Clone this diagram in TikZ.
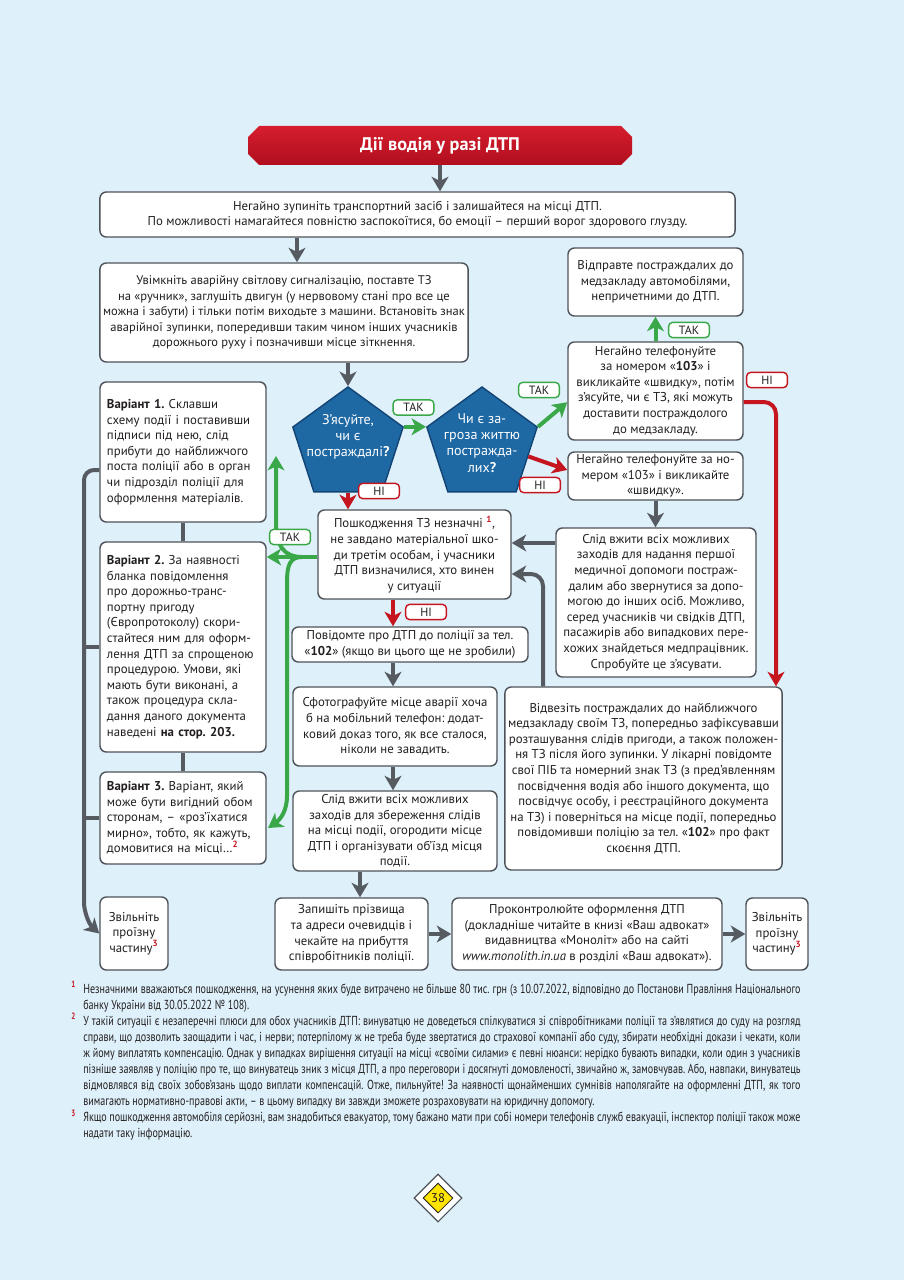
\documentclass[tikz,border=0pt]{standalone}
\usepackage{fontspec}
\setmainfont{PT Sans}
\newfontfamily\notefont[FakeStretch=0.77]{PT Sans}
\usetikzlibrary{arrows.meta, positioning, calc, shapes.geometric}
\frenchspacing

\definecolor{bgblue}{RGB}{222,240,250}
\definecolor{boxgray}{RGB}{78,83,89}
\definecolor{arrowgray}{RGB}{86,91,97}
\definecolor{yesgreen}{RGB}{58,168,73}
\definecolor{nored}{RGB}{197,22,32}
\definecolor{pentablue}{RGB}{30,104,164}
\definecolor{pentaedge}{RGB}{18,68,116}
\definecolor{bannertop}{RGB}{214,30,45}
\definecolor{bannerbottom}{RGB}{176,14,30}
\definecolor{textdark}{RGB}{35,31,32}
\definecolor{signyellow}{RGB}{255,228,0}

\newcommand{\refmark}[1]{\textsuperscript{\textcolor{nored}{\textbf{#1}}}}
\newcommand{\notemark}[1]{\leavevmode\llap{\textcolor{nored}{\textbf{\textsuperscript{#1}}}\hspace{0.18cm}}}

\begin{document}
\begin{tikzpicture}[
		x=0.025cm, y=-0.025cm,
		every node/.style={font=\fontsize{9.1}{11.1}\selectfont, text=textdark, align=center},
		box/.style={draw=boxgray, fill=white, line width=1pt, rounded corners=0.16cm, inner xsep=0.08cm, inner ysep=0.02cm},
		varbox/.style={box, align=left, text width=3.8cm, inner xsep=0.175cm, minimum width=4.15cm},
		bannertext/.style={minimum width=9.6cm, minimum height=0.975cm, inner sep=0pt,
			text=white, font=\bfseries\fontsize{13}{15}\selectfont},
		pentagon/.style={regular polygon, regular polygon sides=5, minimum size=2.9cm, inner sep=0pt,
			fill=pentablue, draw=pentaedge, line width=1pt},
		pentatext/.style={text=white, font=\fontsize{10}{11.5}\selectfont, align=center},
		yeslabel/.style={draw=yesgreen, fill=white, line width=1pt, rounded corners=0.1cm, minimum width=1.02cm,
			minimum height=0.38cm, inner sep=0pt, font=\fontsize{8.5}{9}\selectfont},
		nolabel/.style={yeslabel, draw=nored},
		grayarrow/.style={draw=arrowgray, line width=0.1cm, -{Stealth[length=0.36cm, width=0.42cm, inset=0.1cm]}},
		grayline/.style={draw=arrowgray, line width=0.1cm},
		yesarrow/.style={grayarrow, draw=yesgreen},
		noarrow/.style={grayarrow, draw=nored},
		notes/.style={font=\notefont\fontsize{9.3}{11.4}\selectfont, text width=17.925cm, align=justify, inner sep=0pt}
		]
		
		% page
		\path[use as bounding box, fill=bgblue] (0,0) rectangle (904,1280);
		
		% Title and first steps
		\shade[top color=bannertop, bottom color=bannerbottom] (259,126) -- (621,126) -- (632,137) -- (632,154)
			-- (621,165) -- (259,165) -- (248,154) -- (248,137) -- cycle;
		\node[bannertext] (title) at (440,145.5) {Дії водія у разі ДТП};
		\node[box, minimum width=15.875cm, minimum height=1.125cm] (stop) at (417.5,214.5)
			{Негайно зупиніть транспортний засіб і залишайтеся на місці ДТП.\\
			По можливості намагайтеся повністю заспокоїтися, бо емоції – перший ворог здорового глузду.};
		\node[box, minimum width=9.2cm, minimum height=2.475cm, font=\fontsize{8.9}{11.1}\selectfont] (hazard) at (284,312.5)
			{Увімкніть аварійну світлову сигналізацію, поставте ТЗ\\
			на «ручник», заглушіть двигун (у нервовому стані про все це\\
			можна і забути) і тільки потім виходьте з машини. Встановіть знак\\
			аварійної зупинки, попередивши таким чином інших учасників\\
			дорожнього руху і позначивши місце зіткнення.};
		
		% Questions
		\node[pentagon, label={[pentatext, yshift=0.2cm]center:{З’ясуйте,\\ чи є\\ постраждалі\textbf{?}}}] (ask) at (348,445) {};
		\node[pentagon, label={[pentatext, yshift=0.05cm]center:{Чи є за-\\ гроза життю\\ постражда-\\ лих\textbf{?}}}] (threat) at (482,445) {};
		
		% Right column
		\node[box, minimum width=4.375cm, minimum height=1.7cm] (sendcars) at (655.5,282)
			{Відправте постраждалих до\\ медзакладу автомобілями,\\ непричетними до ДТП.};
		\node[box, minimum width=4.375cm, minimum height=2.45cm] (call103a) at (655.5,391)
			{Негайно телефонуйте\\ за номером «\textbf{103}» і\\ викликайте «швидку», потім\\
			з’ясуйте, чи є ТЗ, які можуть\\ доставити постраждолого\\ до медзакладу.};
		\node[box, minimum width=4.375cm, minimum height=1.2cm] (call103b) at (655.5,476)
			{Негайно телефонуйте за но-\\ мером «103» і викликайте\\ «швидку».};
		\node[box, minimum width=5cm, minimum height=3.725cm] (firstaid) at (656,602.5)
			{Слід вжити всіх можливих\\ заходів для надання першої\\ медичної допомоги постраж-\\
			далим або звернутися за допо-\\ могою до інших осіб. Можливо,\\ серед учасників чи свідків ДТП,\\
			пасажирів або випадкових пере-\\ хожих знайдеться медпрацівник.\\ Спробуйте це з’ясувати.};
		\node[box, minimum width=6.925cm, minimum height=4.575cm] (transport) at (643.5,778.5)
			{Відвезіть постраждалих до найближчого\\ медзакладу своїм ТЗ, попередньо зафіксувавши\\
			розташування слідів пригоди, а також положен-\\ ня ТЗ після його зупинки. У лікарні повідомте\\
			свої ПІБ та номерний знак ТЗ (з пред’явленням\\ посвідчення водія або іншого документа, що\\
			посвідчує особу, і реєстраційного документа\\ на ТЗ) і поверніться на місце події, попередньо\\
			повідомивши поліцію за тел. «\textbf{102}» про факт\\ скоєння ДТП.};
		
		% Middle column
		\node[box, minimum width=4.825cm, minimum height=2.225cm] (minor) at (414.5,554.5)
			{Пошкодження ТЗ незначні \refmark{1},\\ не завдано матеріальної шко-\\ ди третім особам, і учасники\\
			ДТП визначилися, хто винен\\ у ситуації};
		\node[box, minimum width=5.9cm, minimum height=0.875cm] (report) at (410,644.5)
			{Повідомте про ДТП до поліції за тел.\\ «\textbf{102}» (якщо ви цього ще не зробили)};
		\node[box, minimum width=5.1cm, minimum height=1.975cm] (photo) at (395,726.5)
			{Сфотографуйте місце аварії хоча\\ б на мобільний телефон: додат-\\ ковий доказ того, як все сталося,\\
			ніколи не завадить.};
		\node[box, minimum width=5.1cm, minimum height=2cm] (preserve) at (395,831)
			{Слід вжити всіх можливих\\ заходів для збереження слідів\\ на місці події, огородити місце\\
			ДТП і організувати об’їзд місця\\ події.};
		
		% Left column
		\node[varbox, minimum height=3.5cm] (var1) at (183,452)
			{\textbf{Варіант 1.} Склавши\\ схему події і поставивши\\ підписи під нею, слід\\ прибути до найближчого\\
			поста поліції або в орган\\ чи підрозділ поліції для\\ оформлення матеріалів.};
		\node[varbox, minimum height=5.25cm] (var2) at (183,647)
			{\textbf{Варіант 2.} За наявності\\ бланка повідомлення\\ про дорожньо-транс-\\ портну пригоду\\
			(Європротоколу) скори-\\ стайтеся ним для оформ-\\ лення ДТП за спрощеною\\ процедурою. Умови, які\\
			мають бути виконані, а\\ також процедура скла-\\ дання даного документа\\ наведені \textbf{на стор. 203.}};
		\node[varbox, minimum height=2.3cm] (var3) at (183,818)
			{\textbf{Варіант 3.} Варіант, який\\ може бути вигідний обом\\ сторонам, – «роз’їхатися\\
			мирно», тобто, як кажуть,\\ домовитися на місці…\refmark{2}};
		
		% Bottom row
		\node[box, minimum width=1.7cm, minimum height=1.825cm] (free1) at (134,933.5)
			{Звільніть\\ проїзну\\ частину\refmark{3}};
		\node[box, minimum width=3.825cm, minimum height=1.8cm] (names) at (351.5,934)
			{Запишіть прізвища\\ та адреси очевидців і\\ чекайте на прибуття\\ співробітників поліції.};
		\node[box, minimum width=6.75cm, minimum height=1.8cm] (control) at (587,934)
			{Проконтролюйте оформлення ДТП\\ (докладніше читайте в книзі «Ваш адвокат»\\
			видавництва «Моноліт» або на сайті\\ \textit{www.monolith.in.ua} в розділі «Ваш адвокат»).};
		\node[box, minimum width=1.55cm, minimum height=1.8cm] (free2) at (777,934)
			{Звільніть\\ проїзну\\ частину\refmark{3}};
		
		% Bends and levels
		\coordinate (col1) at (297,0);
		\coordinate (col2) at (393,0);
		\coordinate (col3) at (360,0);
		\coordinate (aidlevel) at (0,543);
		\coordinate (backbend) at (543,574);
		\coordinate (nobend) at (776,402);
		\coordinate (leftbus) at (84,470);
		\coordinate (fork) at (302,557);
		
		% Main flow
		\draw[grayarrow] (title.south) -- (title.south |- stop.north);
		\draw[grayarrow] (stop.south -| col1) -- (hazard.north -| col1);
		\draw[grayarrow] (hazard.south -| ask.corner 1) -- (ask.corner 1);
		\draw[yesarrow] (ask.corner 5) -- (threat.corner 2);
		\draw[yesarrow] (threat.corner 5) -- ([yshift=-0.28cm]call103a.west);
		\draw[noarrow] ($(threat.corner 5)!0.45!(threat.corner 4)$) -- ([yshift=0.15cm]call103b.west);
		\draw[yesarrow] (call103a.north) -- (sendcars.south);
		\draw[noarrow, rounded corners=0.3cm] (call103a.east |- nobend) -- (nobend) -- (nobend |- transport.north);
		\draw[grayarrow] (call103b.south) -- (call103b.south |- firstaid.north);
		\draw[grayarrow] (firstaid.west |- aidlevel) -- (minor.east |- aidlevel);
		\draw[grayarrow, rounded corners=0.3cm] (transport.north -| backbend) -- (backbend) -- (minor.east |- backbend);
		\draw[noarrow] (ask.south) -- (ask.south |- minor.north);
		\draw[noarrow] (minor.south -| col2) -- (report.north -| col2);
		\draw[grayarrow] (report.south -| col2) -- (photo.north -| col2);
		\draw[grayarrow] (photo.south -| col2) -- (preserve.north -| col2);
		\draw[grayarrow] (preserve.south -| col3) -- (names.north -| col3);
		\draw[grayarrow] (names.east) -- (control.west);
		\draw[grayarrow] (control.east) -- (free2.west);
		
		% Variants
		\draw[yesarrow] (minor.west |- fork) -- (var2.east |- fork);
		\draw[yesarrow] (fork) .. controls (284,557) and (276,546) .. (276,522) -- (276,456);
		\draw[yesarrow] (fork) .. controls (290,557) and (287,565) .. (287,582) -- (287,796)
			.. controls (287,810) and (281,819) .. (268,828);
		\draw[grayline] (var1.south) -- (var2.north);
		\draw[grayline] (var2.south) -- (var3.north);
		\draw[grayline] (var2.west) -- (var2.west -| leftbus);
		\draw[grayline] (var3.west) -- (var3.west -| leftbus);
		\draw[grayarrow, rounded corners=0.25cm] (var1.west |- leftbus) -- (leftbus) -- (84,892)
			.. controls (84,912) and (89,924) .. (free1.west);
		
		% Answers
		\node[yeslabel] (yesask) at (413.5,407.5) {ТАК};
		\node[yeslabel] (yesthreat) at (539,390) {ТАК};
		\node[nolabel] (nothreat) at (540,485) {НІ};
		\node[nolabel] (noask) at (379,491) {НІ};
		\node[yeslabel] (yescars) at (689,330) {ТАК};
		\node[nolabel] (nocars) at (767,380) {НІ};
		\node[nolabel] (nominor) at (426,612) {НІ};
		\node[yeslabel] (yesminor) at (290,537) {ТАК};
		
		% Footnotes
		\node[notes, anchor=north west] (notes) at (83,981) {%
			\notemark{1}Незначними вважаються пошкодження, на усунення яких буде витрачено не більше 80 тис. грн (з 10.07.2022, відповідно до Постанови Правління Національного банку України від 30.05.2022 № 108).\par
			\notemark{2}У такій ситуації є незаперечні плюси для обох учасників ДТП: винуватцю не доведеться спілкуватися зі співробітниками поліції та з’являтися до суду на розгляд справи, що дозволить заощадити і час, і нерви; потерпілому ж не треба буде звертатися до страхової компанії або суду, збирати необхідні докази і чекати, коли ж йому виплатять компенсацію. Однак у випадках вирішення ситуації на місці «своїми силами» є певні нюанси: нерідко бувають випадки, коли один з учасників пізніше заявляв у поліцію про те, що винуватець зник з місця ДТП, а про переговори і досягнуті домовленості, звичайно ж, замовчував. Або, навпаки, винуватець відмовлявся від своїх зобов’язань щодо виплати компенсацій. Отже, пильнуйте! За наявності щонайменших сумнівів наполягайте на оформленні ДТП, як того вимагають нормативно-правові акти, – в цьому випадку ви завжди зможете розраховувати на юридичну допомогу.\par
			\notemark{3}Якщо пошкодження автомобіля серйозні, вам знадобиться евакуатор, тому бажано мати при собі номери телефонів служб евакуації, інспектор поліції також може надати таку інформацію.};
		
		% Page number
		\node[diamond, draw=boxgray, fill=white, line width=0.8pt, minimum size=1.2cm, inner sep=0pt] (pageframe) at (438,1198) {};
		\node[diamond, draw=textdark, fill=signyellow, line width=0.6pt, minimum size=0.75cm, inner sep=0pt] (pagenum) at (pageframe) {38};
		
	\end{tikzpicture}
\end{document}
